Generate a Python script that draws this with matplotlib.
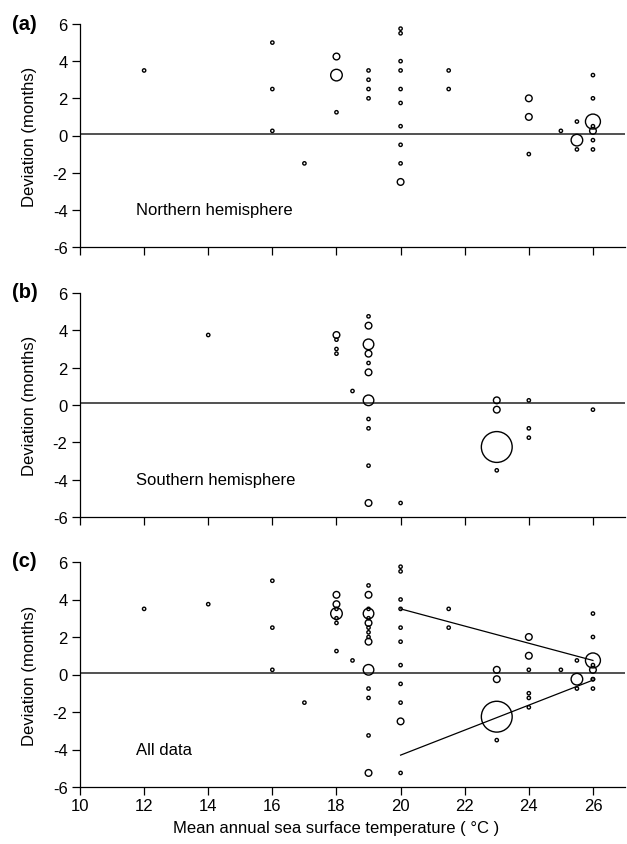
import matplotlib.pyplot as plt
import numpy as np

plt.rcParams['font.family'] = ['Liberation Sans', 'DejaVu Sans']
plt.rcParams['axes.unicode_minus'] = False

# Northern hemisphere: SST (deg C), deviation (months), number of records
north_sst = [12, 16, 16, 16, 17, 18, 18, 18, 19, 19, 19, 19,
             20, 20, 20, 20, 20, 20, 20, 20, 20, 20,
             21.5, 21.5, 24, 24, 24, 25, 25.5, 25.5, 25.5,
             26, 26, 26, 26, 26, 26, 26]
north_dev = [3.5, 5.0, 2.5, 0.25, -1.5, 4.25, 3.25, 1.25, 3.5, 3.0, 2.5, 2.0,
             5.75, 5.5, 4.0, 3.5, 2.5, 1.75, 0.5, -0.5, -1.5, -2.5,
             3.5, 2.5, 2.0, 1.0, -1.0, 0.25, 0.75, -0.25, -0.75,
             3.25, 2.0, 0.75, 0.5, 0.25, -0.25, -0.75]
north_n = [1, 1, 1, 1, 1, 4, 12, 1, 1, 1, 1, 1,
           1, 1, 1, 1, 1, 1, 1, 1, 1, 4,
           1, 1, 4, 4, 1, 1, 1, 12, 1,
           1, 1, 20, 1, 4, 1, 1]

# Southern hemisphere
south_sst = [14, 18, 18, 18, 18, 18.5,
             19, 19, 19, 19, 19, 19, 19, 19, 19, 19, 19,
             20, 23, 23, 23, 23, 24, 24, 24, 26]
south_dev = [3.75, 3.75, 3.5, 3.0, 2.75, 0.75,
             4.75, 4.25, 3.25, 2.75, 2.25, 1.75, 0.25, -0.75, -1.25, -3.25, -5.25,
             -5.25, 0.25, -0.25, -2.25, -3.5, 0.25, -1.25, -1.75, -0.25]
south_n = [1, 4, 1, 1, 1, 1,
           1, 4, 10, 4, 1, 4, 10, 1, 1, 1, 4,
           1, 4, 4, 85, 1, 1, 1, 1, 1]

# reference level and fitted trends for the pooled data
ref_level = 0.1
trend_sst = [20, 26]
trend_upper = [3.5, 0.75]
trend_lower = [-4.3, -0.3]

all_sst = north_sst + south_sst
all_dev = north_dev + south_dev
all_n = north_n + south_n

W, H = 627, 845
fig = plt.figure(figsize=(W / 100, H / 100), dpi=100)

# axes boxes in pixels: (top, bottom)
boxes = [(25, 248), (294, 518), (563, 788)]
left_px, right_px = 80, 625

panels = [
    ('(a)', north_sst, north_dev, north_n, 'Northern hemisphere'),
    ('(b)', south_sst, south_dev, south_n, 'Southern hemisphere'),
    ('(c)', all_sst, all_dev, all_n, 'All data'),
]

for i, (tag, x, y, n, name) in enumerate(panels):
    top, bot = boxes[i]
    ax = fig.add_axes([left_px / W, 1 - bot / H, (right_px - left_px) / W, (bot - top) / H])

    sizes = 5.8 * np.array(n)
    ax.scatter(x, y, s=sizes, facecolors='none', edgecolors='black',
               linewidths=1.0, zorder=3)
    ax.axhline(ref_level, color='#333333', lw=1.2, zorder=2)

    if i == 2:
        ax.plot(trend_sst, trend_upper, color='black', lw=0.9, zorder=2)
        ax.plot(trend_sst, trend_lower, color='black', lw=0.9, zorder=2)

    ax.set_xlim(10, 27)
    ax.set_ylim(-6, 6)
    ax.set_xticks(np.arange(10, 27, 2))
    ax.set_yticks(np.arange(-6, 7, 2))
    for side in ['top', 'right']:
        ax.spines[side].set_visible(False)
    for side in ['left', 'bottom']:
        ax.spines[side].set_linewidth(0.9)
    ax.tick_params(direction='out', length=6, width=0.9, labelsize=12)
    ax.tick_params(axis='y', pad=3)
    ax.tick_params(axis='x', pad=2)
    if i < 2:
        ax.tick_params(axis='x', labelbottom=False)

    ax.set_ylabel('Deviation (months)', fontsize=12)
    ax.yaxis.set_label_coords(-0.078, 0.5)
    ax.text(11.75, -4.0, name, fontsize=12, ha='left', va='center')

    fig.text(12 / W, 1 - (top - 1) / H, tag, fontsize=14.5, fontweight='bold',
             ha='left', va='center')

ax.set_xlabel('Mean annual sea surface temperature ( °C )', fontsize=12)
ax.xaxis.set_label_coords(8 / 17, -0.145)

fig.savefig('out.png', dpi=100)
